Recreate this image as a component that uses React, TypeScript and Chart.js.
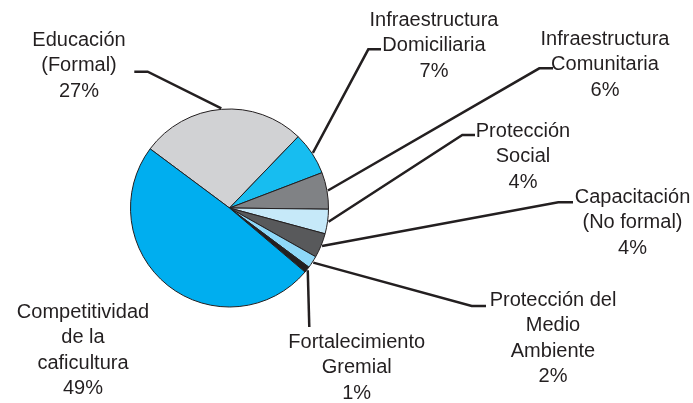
import React, { useEffect, useRef } from "react";
import { Chart, registerables } from "chart.js";

Chart.register(...registerables);

// ---- data ----
const categories: string[][] = [
  ["Educación", "(Formal)"],
  ["Infraestructura", "Domiciliaria"],
  ["Infraestructura", "Comunitaria"],
  ["Protección", "Social"],
  ["Capacitación", "(No formal)"],
  ["Protección del", "Medio", "Ambiente"],
  ["Fortalecimiento", "Gremial"],
  ["Competitividad", "de la", "caficultura"],
];
const values: number[] = [27, 7, 6, 4, 4, 2, 1, 49];
const sliceColors: string[] = [
  "#d1d2d4",
  "#17bdf0",
  "#808285",
  "#c6e9f9",
  "#58595b",
  "#8ed8f8",
  "#231f20",
  "#00aeef",
];

// ---- label layout (positions of the text and leader-line bends) ----
// [labelCenterX, firstBaselineY, bendX, bendY, endX, endY, hasLeader]
const labelLayout: [number, number, number, number, number, number, boolean][] = [
  [79, 46, 147.7, 71.7, 134.3, 71.7, true],
  [434, 26, 368.3, 49.3, 381, 49.3, true],
  [605, 45, 539.3, 68.3, 553, 68.3, true],
  [523, 137, 462.3, 135, 475, 135, true],
  [632.5, 203, 558.3, 202.3, 573, 202.3, true],
  [553, 306, 471.7, 306, 486, 306, true],
  [356.7, 348, 309.3, 327, 309.3, 327, true],
  [83, 318, 0, 0, 0, 0, false],
];

const TEXT_COLOR = "#231f20";
const FONT = "20px 'Liberation Sans', Arial, sans-serif";
const LINE_H = 25.3;

const labelPlugin = {
  id: "outerLabels",
  afterDraw(chart: any) {
    const ctx = chart.ctx as CanvasRenderingContext2D;
    const meta = chart.getDatasetMeta(0);
    ctx.save();
    meta.data.forEach((el: any, i: number) => {
      const p = el.getProps(["x", "y", "startAngle", "endAngle", "outerRadius"], true);
      const lay = labelLayout[i];
      if (lay[6]) {
        const mid = (p.startAngle + p.endAngle) / 2;
        const sx = p.x + Math.cos(mid) * (p.outerRadius + 1);
        const sy = p.y + Math.sin(mid) * (p.outerRadius + 1);
        ctx.beginPath();
        ctx.strokeStyle = TEXT_COLOR;
        ctx.lineWidth = 2.5;
        ctx.lineJoin = "miter";
        ctx.moveTo(sx, sy);
        ctx.lineTo(lay[2], lay[3]);
        ctx.lineTo(lay[4], lay[5]);
        ctx.stroke();
      }
      ctx.fillStyle = TEXT_COLOR;
      ctx.font = FONT;
      ctx.textAlign = "center";
      ctx.textBaseline = "alphabetic";
      const lines = [...categories[i], `${values[i]}%`];
      lines.forEach((t, k) => {
        ctx.fillText(t, lay[0], lay[1] + k * LINE_H);
      });
    });
    ctx.restore();
  },
};

export default function App() {
  const ref = useRef<HTMLCanvasElement | null>(null);
  useEffect(() => {
    if (!ref.current) return;
    const chart = new Chart(ref.current, {
      type: "pie",
      data: {
        labels: categories.map((c) => c.join(" ")),
        datasets: [
          {
            data: values,
            backgroundColor: sliceColors,
            borderColor: "#231f20",
            borderWidth: 1,
          },
        ],
      },
      options: {
        responsive: false,
        animation: false,
        devicePixelRatio: 1,
        rotation: -53.3,
        layout: { padding: { left: 130, right: 364, top: 108.5, bottom: 95.5 } },
        plugins: {
          legend: { display: false },
          tooltip: { enabled: false },
          title: { display: false },
        },
      },
      plugins: [labelPlugin],
    });
    return () => chart.destroy();
  }, []);
  return (
    <div style={{ position: "fixed", left: 0, top: 0, width: 693, height: 403, background: "#fff" }}>
      <canvas ref={ref} width={693} height={403} style={{ display: "block" }} />
    </div>
  );
}
